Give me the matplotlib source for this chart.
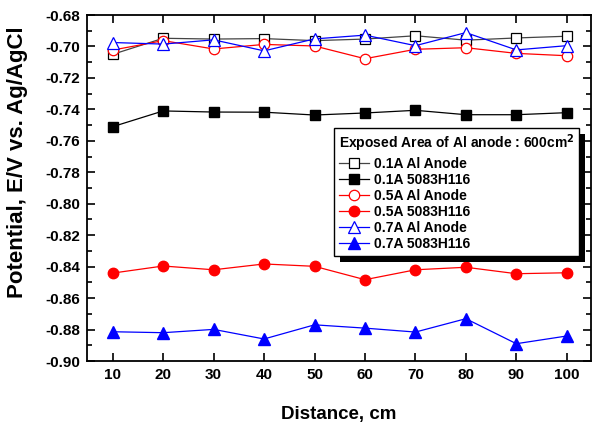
import matplotlib
matplotlib.use("Agg")
import matplotlib.pyplot as plt
from matplotlib.ticker import MultipleLocator, FormatStrFormatter
from matplotlib.patches import Rectangle

plt.rcParams['font.family'] = ['Liberation Sans', 'DejaVu Sans']
plt.rcParams['font.weight'] = 'bold'

distance = [10, 20, 30, 40, 50, 60, 70, 80, 90, 100]
a01_al = [-0.7050, -0.6948, -0.6953, -0.6950, -0.6963, -0.6953, -0.6932, -0.6960, -0.6946, -0.6935]
a01_5083 = [-0.7510, -0.7410, -0.7417, -0.7418, -0.7436, -0.7423, -0.7406, -0.7434, -0.7434, -0.7421]
a05_al = [-0.7023, -0.6963, -0.7016, -0.6987, -0.6997, -0.7078, -0.7018, -0.7008, -0.7044, -0.7059]
a05_5083 = [-0.8441, -0.8396, -0.8420, -0.8383, -0.8398, -0.8483, -0.8420, -0.8404, -0.8445, -0.8439]
a07_al = [-0.6975, -0.6985, -0.6958, -0.7028, -0.6952, -0.6928, -0.6995, -0.6912, -0.7022, -0.6995]
a07_5083 = [-0.8814, -0.8820, -0.8799, -0.8860, -0.8770, -0.8791, -0.8816, -0.8731, -0.8890, -0.8841]

labels = ["0.1A Al Anode", "0.1A 5083H116", "0.5A Al Anode",
          "0.5A 5083H116", "0.7A Al Anode", "0.7A 5083H116"]
legend_title = "Exposed Area of Al anode : 600cm$^{\\mathbf{2}}$"

fig = plt.figure(figsize=(5.93, 4.23), dpi=100)
ax = fig.add_axes([87/593, 1-361/423, (591-87)/593, (361-15)/423])

ms = 7.5
lw = 0.9
ax.plot(distance, a01_al, color='#444444', lw=lw, marker='s', ms=ms,
        mfc='white', mec='black', mew=0.9, label=labels[0])
ax.plot(distance, a01_5083, color='black', lw=lw, marker='s', ms=ms,
        mfc='black', mec='black', label=labels[1])
ax.plot(distance, a05_al, color='red', lw=lw, marker='o', ms=ms,
        mfc='white', mec='red', mew=0.9, label=labels[2])
ax.plot(distance, a05_5083, color='red', lw=lw, marker='o', ms=ms,
        mfc='red', mec='red', label=labels[3])
ax.plot(distance, a07_al, color='blue', lw=lw, marker='^', ms=ms+1,
        mfc='white', mec='blue', mew=0.9, label=labels[4])
ax.plot(distance, a07_5083, color='blue', lw=lw, marker='^', ms=ms+1,
        mfc='blue', mec='blue', label=labels[5])

ax.set_xlim(4.9, 104.8)
ax.set_ylim(-0.90, -0.68)
ax.xaxis.set_major_locator(MultipleLocator(10))
ax.yaxis.set_major_locator(MultipleLocator(0.02))
ax.yaxis.set_minor_locator(MultipleLocator(0.01))
ax.yaxis.set_major_formatter(FormatStrFormatter('%.2f'))

ax.tick_params(axis='both', which='both', direction='in', top=True, right=True,
               labelsize=11, width=1.2)
ax.tick_params(axis='both', which='major', length=6, pad=5)
ax.tick_params(axis='both', which='minor', length=3.5)
for lab in ax.get_xticklabels() + ax.get_yticklabels():
    lab.set_fontweight('bold')
for sp in ax.spines.values():
    sp.set_linewidth(1.3)

ax.set_xlabel("Distance, cm", fontsize=13.5, fontweight='bold', labelpad=17)
ax.set_ylabel("Potential, E/V vs. Ag/AgCl", fontsize=16, fontweight='bold')
ax.yaxis.set_label_coords(-0.118, 0.575)

leg = ax.legend(loc='upper left', bbox_to_anchor=((334-87)/504, 1-(128-15)/346),
                title=legend_title, alignment='left', fancybox=False,
                edgecolor='black', framealpha=1, borderaxespad=0,
                prop={'weight': 'bold', 'size': 10},
                title_fontproperties={'weight': 'bold', 'size': 10},
                handlelength=2.2, handletextpad=0.35, labelspacing=0.15,
                borderpad=0.35)
leg.get_frame().set_linewidth(1.0)
leg.set_zorder(5)

fig.canvas.draw()
bb = leg.get_window_extent()
shadow = Rectangle((bb.x0 + 6, bb.y0 - 6), bb.width, bb.height,
                   transform=None, facecolor='black', edgecolor='none', zorder=4)
ax.add_artist(shadow)
shadow.set_clip_on(False)

fig.savefig("out.png", dpi=100)
